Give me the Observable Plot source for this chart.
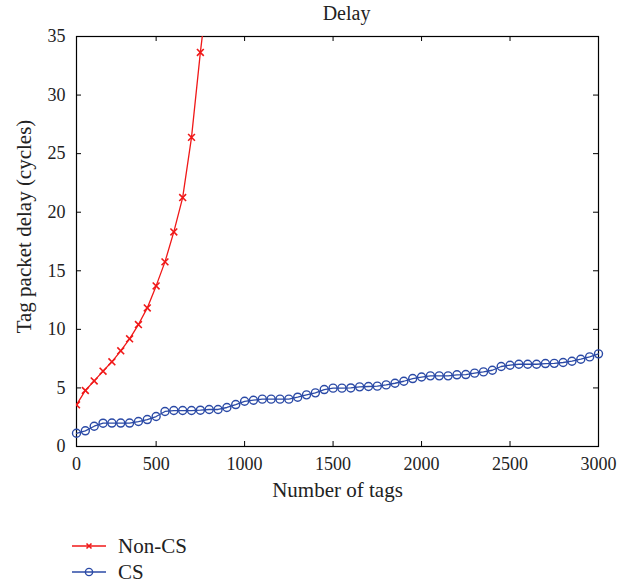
<!DOCTYPE html>
<html>
<head>
<meta charset="utf-8">
<script src="https://cdn.jsdelivr.net/npm/d3@7"></script>
<script src="https://cdn.jsdelivr.net/npm/@observablehq/plot@0.6"></script>
<style>
  html, body { margin: 0; padding: 0; background: #fff; }
  body { width: 638px; height: 588px; overflow: hidden; font-family: "Liberation Serif", "DejaVu Serif", serif; }
  #legend { position: relative; height: 73px; }
  .lg { position: absolute; left: 72px; display: flex; align-items: center; font-size: 21px; color: #222; line-height: 24px; }
  .lg svg { margin-right: 10px; }
</style>
</head>
<body>
<div id="chart"></div>
<div id="legend"></div>
<script>
// Number of tags (x) — every 50 tags
const tags = d3.range(1, 61).map(i => i * 50);
// Non-CS delay (cycles) — rises quickly, leaves the plot above 35
const nonCS = [3.56, 4.78, 5.6, 6.43, 7.23, 8.17, 9.19, 10.41, 11.83, 13.71,
               15.76, 18.32, 21.25, 26.39, 33.64, 40.0];
// CS delay (cycles)
const cs = [1.13, 1.34, 1.73, 1.99, 2.0, 2.0, 2.0, 2.13, 2.3, 2.56,
            2.99, 3.07, 3.07, 3.07, 3.1, 3.16, 3.16, 3.33, 3.58, 3.86,
            3.95, 4.04, 4.04, 4.04, 4.04, 4.21, 4.41, 4.58, 4.86, 4.98,
            4.98, 5.0, 5.09, 5.12, 5.15, 5.26, 5.4, 5.57, 5.8, 5.93,
            6.03, 6.03, 6.03, 6.12, 6.14, 6.26, 6.37, 6.51, 6.83, 6.94,
            7.02, 7.02, 7.02, 7.08, 7.1, 7.17, 7.28, 7.45, 7.65, 7.91];
const xTickValues = [50, 500, 1000, 1500, 2000, 2500, 3000];
const xTickLabels = ["0", "500", "1000", "1500", "2000", "2500", "3000"];
const yTickValues = [0, 5, 10, 15, 20, 25, 30, 35];
const seriesNames = ["Non-CS", "CS"];
const RED = "#f01818", BLUE = "#2b4aa6";

const nonData = nonCS.map((v, i) => ({x: tags[i], y: v}));
const csData = cs.map((v, i) => ({x: tags[i], y: v}));

const W = 638, H = 515;
const mL = 76, mR = 40, mT = 36, mB = H - 446;
const pW = W - mL - mR, pH = H - mT - mB, TK = 5;
const plot = Plot.plot({
  width: W, height: H,
  marginLeft: mL, marginRight: mR, marginTop: mT, marginBottom: mB,
  style: {fontFamily: "Liberation Serif, DejaVu Serif, serif", fontSize: "18px", color: "#222", background: "#fff"},
  x: {domain: [50, 3000]},
  y: {domain: [0, 35]},
  marks: [
    Plot.axisX({anchor: "bottom", ticks: xTickValues, tickSize: 0, tickPadding: 11,
                tickFormat: d => xTickLabels[xTickValues.indexOf(d)], label: null}),
    Plot.axisY({anchor: "left", ticks: yTickValues, tickSize: 0, tickPadding: 11, label: null}),
    // inward ticks on all four sides
    Plot.tickX(xTickValues, {x: d => d, stroke: "#000", insetTop: pH - TK}),
    Plot.tickX(xTickValues, {x: d => d, stroke: "#000", insetBottom: pH - TK}),
    Plot.tickY(yTickValues, {y: d => d, stroke: "#000", insetRight: pW - TK}),
    Plot.tickY(yTickValues, {y: d => d, stroke: "#000", insetLeft: pW - TK}),
    Plot.frame({stroke: "#000", strokeWidth: 1.2}),
    Plot.line(nonData, {x: "x", y: "y", stroke: RED, strokeWidth: 1.3, clip: true}),
    Plot.dot(nonData, {x: "x", y: "y", symbol: "times", r: 3.2, stroke: RED, strokeWidth: 1.6, clip: true}),
    Plot.line(csData, {x: "x", y: "y", stroke: BLUE, strokeWidth: 1.3}),
    Plot.dot(csData, {x: "x", y: "y", symbol: "circle", r: 4, stroke: BLUE, strokeWidth: 1.4, fill: "none"}),
    Plot.text(["Delay"], {frameAnchor: "top", lineAnchor: "middle", textAnchor: "middle", dx: 9, dy: -23, fontSize: 20, fill: "#222"}),
    Plot.text(["Number of tags"], {frameAnchor: "bottom", lineAnchor: "middle", textAnchor: "middle", dy: 44, fontSize: 21, fill: "#222"}),
    Plot.text(["Tag packet delay (cycles)"], {frameAnchor: "left", lineAnchor: "middle", textAnchor: "middle", dx: -52, dy: -15, rotate: -90, fontSize: 21, fill: "#222"})
  ]
});
document.getElementById("chart").appendChild(plot);

// Legend
const legend = document.getElementById("legend");
const styles = [{color: RED, marker: "x"}, {color: BLUE, marker: "o"}];
seriesNames.forEach((name, i) => {
  const row = document.createElement("div");
  row.className = "lg";
  row.style.top = (i === 0 ? 19 : 45) + "px";
  const s = styles[i];
  const mk = s.marker === "x"
    ? `<path d="M14.5,2.5L19.5,7.5M19.5,2.5L14.5,7.5" stroke="${s.color}" stroke-width="1.6"/>`
    : `<circle cx="17" cy="5" r="3.6" fill="none" stroke="${s.color}" stroke-width="1.4"/>`;
  row.innerHTML = `<svg width="36" height="10"><line x1="0" x2="34" y1="5" y2="5" stroke="${s.color}" stroke-width="1.4"/>${mk}</svg><span>${name}</span>`;
  legend.appendChild(row);
});
</script>
</body>
</html>
